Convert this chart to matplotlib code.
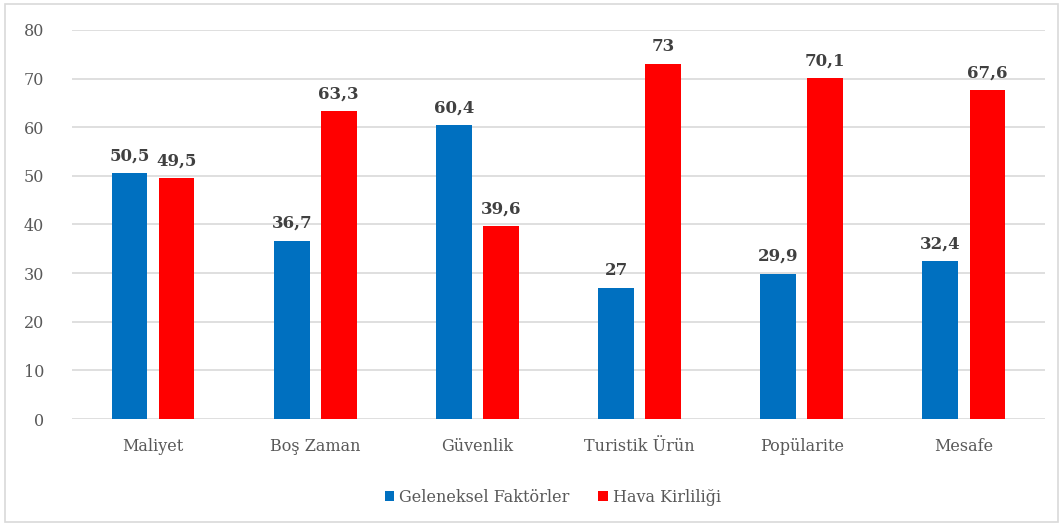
import matplotlib.pyplot as plt
import numpy as np
from matplotlib.patches import Rectangle

# Data
categories = ["Maliyet", "Boş Zaman", "Güvenlik", "Turistik Ürün", "Popülarite", "Mesafe"]
geleneksel = [50.5, 36.7, 60.4, 27, 29.9, 32.4]
hava = [49.5, 63.3, 39.6, 73, 70.1, 67.6]
geleneksel_labels = ["50,5", "36,7", "60,4", "27", "29,9", "32,4"]
hava_labels = ["49,5", "63,3", "39,6", "73", "70,1", "67,6"]

plt.rcParams['font.family'] = ['DejaVu Serif']

blue = '#0070C0'
red = '#FF0000'
txt = '#595959'

fig = plt.figure(figsize=(10.63, 5.26), dpi=100)
ax = fig.add_axes([0.0677, 0.2034, 0.9153, 0.7396])

x = np.arange(len(categories))
w = 0.22
off = 0.145
b1 = ax.bar(x - off, geleneksel, w, color=blue, label="Geleneksel Faktörler", zorder=3)
b2 = ax.bar(x + off, hava, w, color=red, label="Hava Kirliliği", zorder=3)

for bars, labs in [(b1, geleneksel_labels), (b2, hava_labels)]:
    for rect, lab in zip(bars, labs):
        ax.text(rect.get_x() + rect.get_width() / 2, rect.get_height() + 1.8, lab,
                ha='center', va='bottom', fontsize=12, fontweight='bold', color='#404040')

ax.set_xlim(-0.5, len(categories) - 0.5)
ax.set_ylim(0, 80)
ax.set_yticks(np.arange(0, 81, 10))
ax.set_xticks(x)
ax.set_xticklabels(categories)
ax.grid(axis='y', color='#D9D9D9', linewidth=1.2, zorder=0)
ax.tick_params(axis='both', length=0, labelsize=11.5, labelcolor=txt)
ax.tick_params(axis='x', pad=14)
ax.tick_params(axis='y', pad=20)
for s in ax.spines.values():
    s.set_visible(False)

fig.legend(loc='center', bbox_to_anchor=(0.52, 0.055), ncol=2, frameon=False,
           fontsize=11.5, handlelength=0.6, handleheight=0.6, handletextpad=0.3,
           columnspacing=1.8, labelcolor=txt)

fig.patches.append(Rectangle((0.005, 0.008), 0.99, 0.984, transform=fig.transFigure,
                             fill=False, edgecolor='#D9D9D9', linewidth=1.2))

fig.savefig('out.png', dpi=100)
